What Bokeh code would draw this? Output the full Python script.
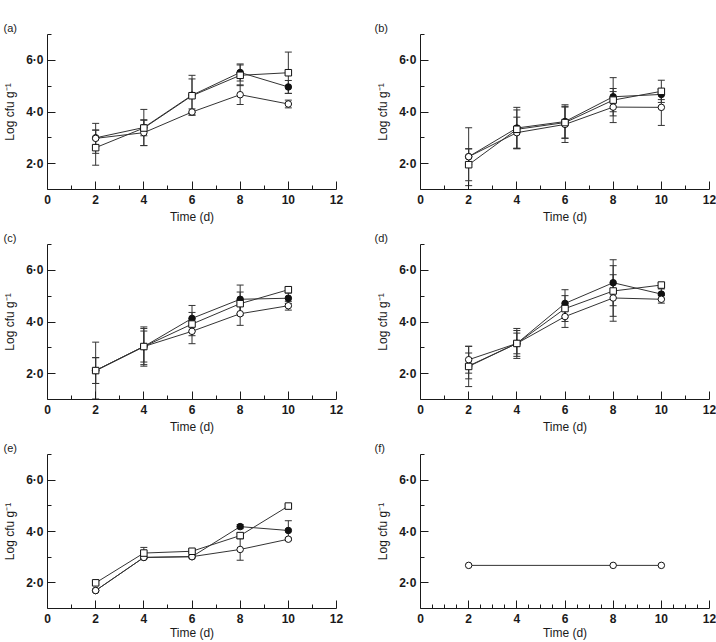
from bokeh.plotting import figure
from bokeh.layouts import column, row
from bokeh.models import Range1d, FixedTicker, Whisker, TeeHead, ColumnDataSource
from bokeh.embed import file_html
from bokeh.resources import INLINE

# Sampling days
days = [2, 4, 6, 8, 10]

# Panel (a)
a_filled = [3.00, 3.40, 4.65, 5.53, 4.97]
a_filled_err = [0.30, 0.70, 0.77, 0.33, 0.25]
a_open = [2.98, 3.20, 4.00, 4.67, 4.31]
a_open_err = [0.58, 0.50, 0.12, 0.38, 0.15]
a_square = [2.62, 3.38, 4.63, 5.42, 5.52]
a_square_err = [0.68, 0.30, 0.65, 0.40, 0.80]

# Panel (b)
b_filled = [2.27, 3.38, 3.63, 4.59, 4.68]
b_filled_err = [0.30, 0.80, 0.65, 0.74, 0.20]
b_open = [2.27, 3.20, 3.52, 4.19, 4.18]
b_open_err = [1.12, 0.60, 0.70, 0.60, 0.70]
b_square = [1.96, 3.33, 3.59, 4.46, 4.80]
b_square_err = [0.62, 0.75, 0.60, 0.45, 0.43]

# Panel (c)
c_filled = [2.12, 3.05, 4.14, 4.88, 4.92]
c_filled_err = [0.50, 0.76, 0.50, 0.55, 0.20]
c_open = [2.12, 3.05, 3.64, 4.32, 4.63]
c_open_err = [1.10, 0.60, 0.48, 0.45, 0.17]
c_square = [2.12, 3.05, 3.92, 4.71, 5.25]
c_square_err = [0.50, 0.70, 0.45, 0.45, 0.10]

# Panel (d)
d_filled = [2.30, 3.17, 4.72, 5.52, 5.08]
d_filled_err = [0.50, 0.58, 0.53, 0.89, 0.20]
d_open = [2.54, 3.17, 4.21, 4.93, 4.88]
d_open_err = [0.52, 0.40, 0.42, 0.90, 0.15]
d_square = [2.28, 3.17, 4.52, 5.20, 5.43]
d_square_err = [0.78, 0.50, 0.50, 0.98, 0.08]

# Panel (e)
e_filled = [1.70, 2.99, 3.02, 4.19, 4.04]
e_filled_err = [0.00, 0.00, 0.00, 0.08, 0.38]
e_open = [1.70, 2.99, 3.02, 3.30, 3.70]
e_open_err = [0.00, 0.05, 0.05, 0.42, 0.05]
e_square = [2.00, 3.16, 3.23, 3.84, 4.99]
e_square_err = [0.05, 0.22, 0.05, 0.10, 0.05]

# Panel (f)
f_days = [2, 8, 10]
f_open = [2.68, 2.68, 2.68]

x_ticks = [0, 2, 4, 6, 8, 10, 12]
y_ticks = [2, 4, 6]
y_tick_labels = {2: "2·0", 4: "4·0", 6: "6·0"}

FONT = "Liberation Sans"
INK = "#1a1a1a"


def add_series(p, xs, ys, errs, marker, fill):
    if errs is not None:
        keep = [i for i, e in enumerate(errs) if e > 0]
        src = ColumnDataSource(dict(
            x=[xs[i] for i in keep],
            lo=[ys[i] - errs[i] for i in keep],
            hi=[ys[i] + errs[i] for i in keep],
        ))
        w = Whisker(source=src, base="x", lower="lo", upper="hi",
                    line_color="#333333", line_width=1,
                    upper_head=TeeHead(size=7, line_color="#333333", line_width=1),
                    lower_head=TeeHead(size=7, line_color="#333333", line_width=1))
        p.add_layout(w)
    p.line(xs, ys, line_color="#333333", line_width=1)
    return dict(xs=xs, ys=ys, marker=marker, fill=fill)


def draw_markers(p, m):
    p.scatter(m["xs"], m["ys"], marker=m["marker"], size=6.5,
              fill_color=m["fill"], line_color="#111111", line_width=1)


def make_panel(letter, series, col, rowi, fine_minor=False):
    left = 47 if col == 0 else 62
    right = 22 if col == 0 else 7
    top = 34 if rowi == 0 else 17
    bottom = 33 if rowi == 2 else 38
    height = top + 155 + bottom
    p = figure(width=358, height=height, output_backend="svg",
               toolbar_location=None,
               x_range=Range1d(0, 12), y_range=Range1d(1, 7),
               min_border_left=left, min_border_right=right,
               min_border_top=top, min_border_bottom=bottom)
    p.title.text = "(" + letter + ")"
    p.title.align = "left"
    p.title.offset = -44 if col == 0 else -46
    p.title.standoff = 1
    p.title.text_font = FONT
    p.title.text_font_size = "11px"
    p.title.text_font_style = "normal"
    p.title.text_color = INK

    p.outline_line_color = None
    p.xgrid.visible = False
    p.ygrid.visible = False
    p.background_fill_color = "white"
    p.border_fill_color = "white"

    if fine_minor:
        x_minor = [i * 0.5 for i in range(1, 24) if i % 4 != 0]
    else:
        x_minor = [1, 3, 5, 7, 9, 11]
    p.xaxis.ticker = FixedTicker(ticks=x_ticks, minor_ticks=x_minor)
    p.yaxis.ticker = FixedTicker(ticks=y_ticks, minor_ticks=[3, 5, 7])
    p.yaxis.major_label_overrides = y_tick_labels

    for ax in (p.xaxis[0], p.yaxis[0]):
        ax.axis_line_color = INK
        ax.axis_line_width = 1
        ax.major_tick_line_color = INK
        ax.minor_tick_line_color = INK
        ax.major_tick_in = 8
        ax.major_tick_out = 0
        ax.minor_tick_in = 4
        ax.minor_tick_out = 0
        ax.major_label_text_font = FONT
        ax.major_label_text_font_size = "12px"
        ax.major_label_text_font_style = "bold"
        ax.major_label_text_color = INK
        ax.axis_label_text_font = FONT
        ax.axis_label_text_font_size = "12px"
        ax.axis_label_text_font_style = "normal"
        ax.axis_label_text_color = INK

    p.xaxis.axis_label = "Time (d)"
    p.xaxis.major_label_standoff = 5
    p.xaxis.axis_label_standoff = 0 if rowi == 2 else 3
    p.yaxis.axis_label = "Log cfu g⁻¹"
    p.yaxis.major_label_standoff = 4
    p.yaxis.axis_label_standoff = 6

    marks = [add_series(p, *s) for s in series]
    for m in marks:
        draw_markers(p, m)
    return p


def trio(filled, filled_err, opn, opn_err, sq, sq_err):
    return [
        (days, filled, filled_err, "circle", "#111111"),
        (days, opn, opn_err, "circle", "white"),
        (days, sq, sq_err, "square", "white"),
    ]


pa = make_panel("a", trio(a_filled, a_filled_err, a_open, a_open_err, a_square, a_square_err), 0, 0)
pb = make_panel("b", trio(b_filled, b_filled_err, b_open, b_open_err, b_square, b_square_err), 1, 0)
pc = make_panel("c", trio(c_filled, c_filled_err, c_open, c_open_err, c_square, c_square_err), 0, 1)
pd = make_panel("d", trio(d_filled, d_filled_err, d_open, d_open_err, d_square, d_square_err), 1, 1)
pe = make_panel("e", trio(e_filled, e_filled_err, e_open, e_open_err, e_square, e_square_err), 0, 2)
pf = make_panel("f", [(f_days, f_open, None, "circle", "white")], 1, 2, fine_minor=True)

layout = column(row(pa, pb), row(pc, pd), row(pe, pf))

with open("out.html", "w") as fh:
    fh.write(file_html(layout, INLINE))
